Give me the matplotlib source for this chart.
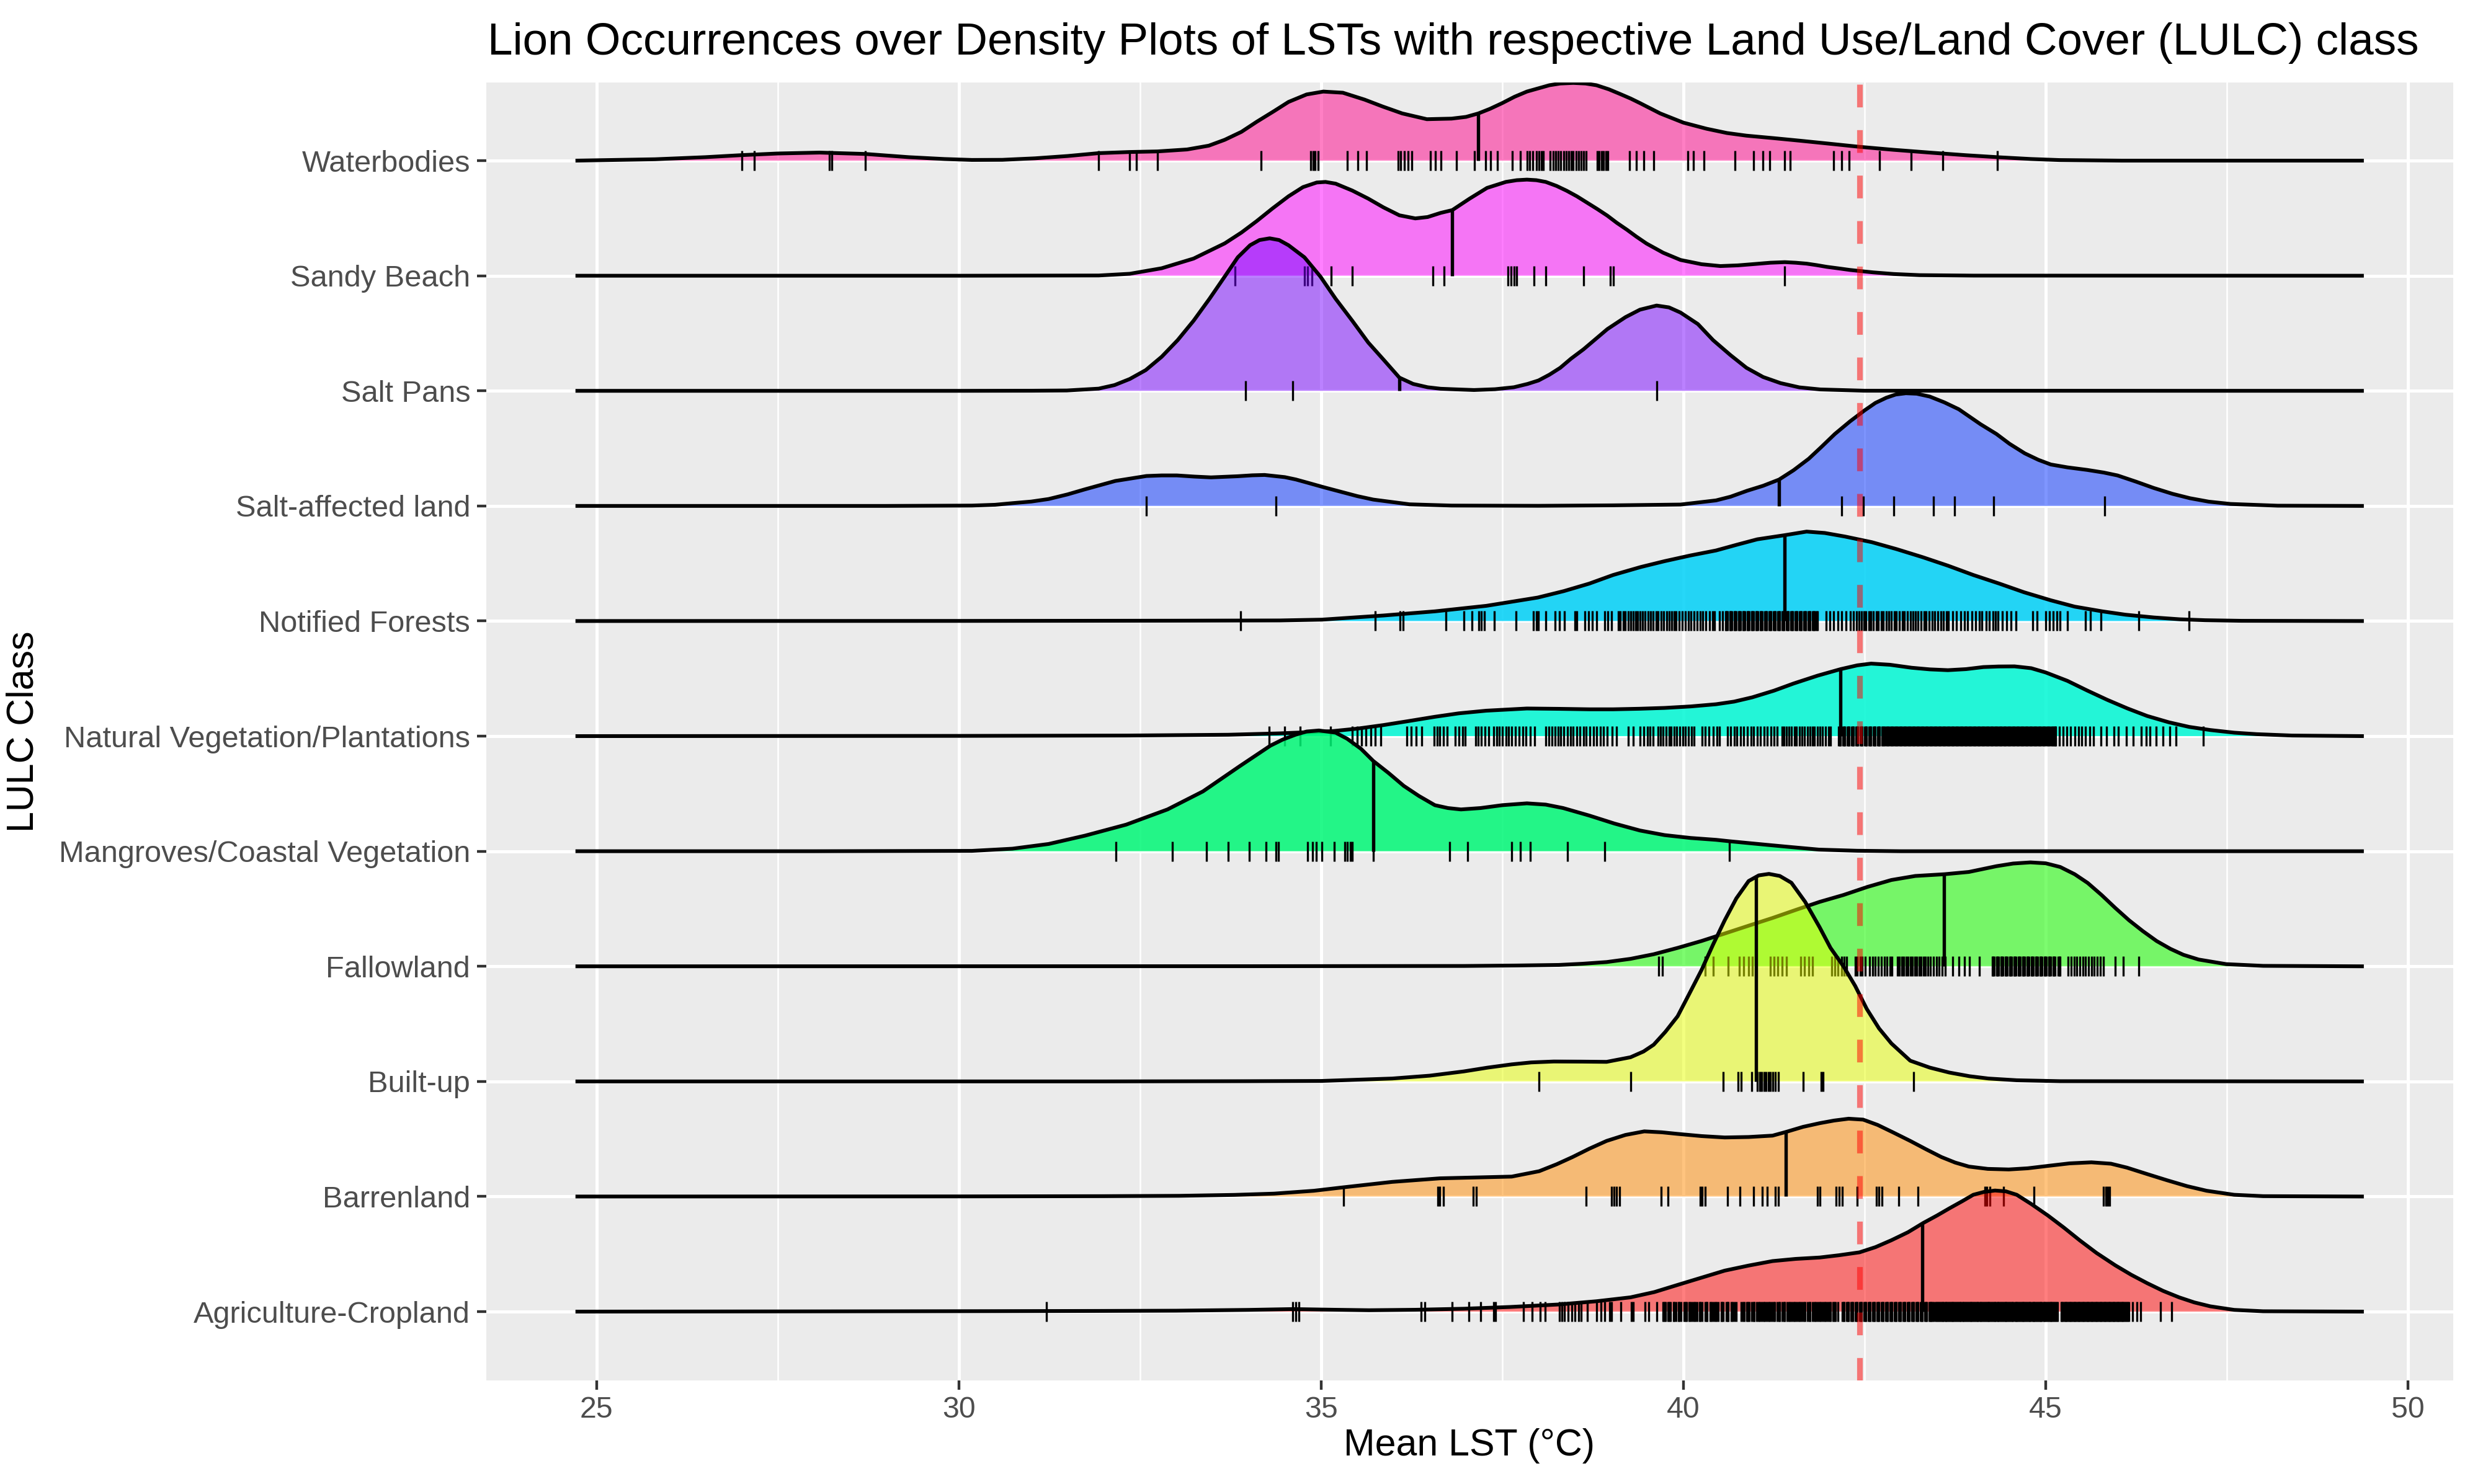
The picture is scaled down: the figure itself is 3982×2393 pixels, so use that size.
"""Ridgeline chart: LST density per LULC class with lion occurrence rugs."""

import matplotlib
matplotlib.use('Agg')
import matplotlib.pyplot as plt
import numpy as np

plt.rcParams.update({
    'font.family': ['Liberation Sans', 'DejaVu Sans'],
    'font.size': 11,
    'xtick.labelsize': 11.6,
    'ytick.labelsize': 11.7,
})

TITLE = 'Lion Occurrences over Density Plots of LSTs with respective Land Use/Land Cover (LULC) class'
X_LABEL = 'Mean LST (°C)'
Y_LABEL = 'LULC Class'
THRESHOLD_LST = 42.43

# bottom -> top, same order as the y axis
LULC_CLASSES = ['Agriculture-Cropland', 'Barrenland', 'Built-up', 'Fallowland',
                'Mangroves/Coastal Vegetation', 'Natural Vegetation/Plantations',
                'Notified Forests', 'Salt-affected land', 'Salt Pans', 'Sandy Beach',
                'Waterbodies']
FILL_COLORS = ['#FF0000', '#FF8B00', '#E8FF00', '#37FB22', '#00F776', '#00F7D4',
               '#00D1F7', '#002EFF', '#7905FF', '#FF00FF', '#FF008B']
FILL_ALPHAS = [0.5, 0.5, 0.5, 0.65, 0.85, 0.85, 0.85, 0.5, 0.5, 0.5, 0.5]

# density curves (x in deg C, height in units of row spacing)
AGRI_X = [24.71, 28.0, 30.5, 32.0, 33.0, 34.0, 34.61, 35.2, 35.66, 36.3, 36.97, 37.6, 38.28,
          38.8, 39.27, 39.6, 39.92, 40.25, 40.57, 40.9, 41.23, 41.55, 41.88, 42.15, 42.43,
          42.65, 42.87, 43.1, 43.31, 43.5, 43.67, 43.85, 44.0, 44.15, 44.3, 44.45, 44.6, 44.8,
          45.03, 45.25, 45.47, 45.7, 45.96, 46.18, 46.4, 46.62, 46.84, 47.05, 47.27, 47.6,
          48.0, 49.39]
AGRI_H = [0.0, 0.002, 0.004, 0.006, 0.008, 0.015, 0.022, 0.016, 0.012, 0.016, 0.025, 0.04,
          0.062, 0.09, 0.124, 0.17, 0.232, 0.295, 0.356, 0.4, 0.439, 0.458, 0.47, 0.49, 0.515,
          0.56, 0.62, 0.69, 0.77, 0.835, 0.897, 0.96, 1.015, 1.04, 1.052, 1.045, 1.015, 0.935,
          0.835, 0.73, 0.619, 0.51, 0.402, 0.32, 0.247, 0.18, 0.124, 0.08, 0.046, 0.015,
          0.003, 0.0]

BARREN_X = [24.71, 30.0, 32.0, 33.04, 33.8, 34.35, 34.9, 35.31, 35.98, 36.64, 37.3, 37.63,
            38.01, 38.25, 38.47, 38.7, 38.94, 39.2, 39.46, 39.7, 39.92, 40.25, 40.57, 40.9,
            41.23, 41.41, 41.65, 41.88, 42.08, 42.28, 42.48, 42.68, 42.9, 43.13, 43.35, 43.56,
            43.75, 43.94, 44.2, 44.49, 44.75, 45.03, 45.33, 45.63, 45.9, 46.12, 46.4, 46.67,
            46.95, 47.22, 47.6, 48.0, 49.39]
BARREN_H = [0.0, 0.001, 0.003, 0.006, 0.014, 0.025, 0.05, 0.08, 0.127, 0.158, 0.168, 0.173,
            0.22, 0.28, 0.343, 0.415, 0.483, 0.535, 0.566, 0.558, 0.544, 0.525, 0.513, 0.517,
            0.529, 0.56, 0.605, 0.637, 0.66, 0.676, 0.668, 0.622, 0.555, 0.483, 0.41, 0.343,
            0.295, 0.26, 0.24, 0.235, 0.245, 0.266, 0.288, 0.297, 0.285, 0.251, 0.195, 0.142,
            0.09, 0.05, 0.015, 0.003, 0.0]

BUILT_X = [24.71, 32.0, 34.0, 35.0, 35.98, 36.5, 36.97, 37.3, 37.63, 37.9, 38.21, 38.6, 38.94,
           39.27, 39.45, 39.59, 39.75, 39.92, 40.08, 40.25, 40.41, 40.57, 40.73, 40.9, 41.04,
           41.18, 41.33, 41.49, 41.68, 41.88, 42.03, 42.21, 42.37, 42.53, 42.7, 42.87, 43.13,
           43.4, 43.67, 43.95, 44.21, 44.6, 45.2, 49.39]
BUILT_H = [0.0, 0.0, 0.002, 0.004, 0.025, 0.05, 0.087, 0.12, 0.148, 0.165, 0.173, 0.172, 0.17,
           0.21, 0.26, 0.319, 0.43, 0.566, 0.76, 0.968, 1.19, 1.4, 1.59, 1.741, 1.79, 1.803,
           1.785, 1.726, 1.56, 1.339, 1.16, 0.999, 0.83, 0.63, 0.46, 0.33, 0.18, 0.12, 0.077,
           0.045, 0.025, 0.01, 0.002, 0.0]

FALLOW_X = [24.71, 34.0, 36.97, 37.7, 38.28, 38.6, 38.94, 39.27, 39.59, 39.92, 40.25, 40.57,
            40.9, 41.23, 41.56, 41.88, 42.21, 42.54, 42.87, 43.2, 43.6, 43.94, 44.32, 44.55,
            44.79, 45.0, 45.2, 45.4, 45.58, 45.77, 45.96, 46.15, 46.34, 46.53, 46.72, 46.9,
            47.11, 47.49, 48.0, 49.39]
FALLOW_H = [0.0, 0.001, 0.003, 0.007, 0.012, 0.022, 0.037, 0.065, 0.105, 0.16, 0.22, 0.285,
            0.353, 0.42, 0.492, 0.56, 0.62, 0.69, 0.75, 0.785, 0.8, 0.82, 0.87, 0.893, 0.903,
            0.895, 0.863, 0.8, 0.724, 0.62, 0.507, 0.4, 0.306, 0.22, 0.152, 0.1, 0.059, 0.019,
            0.004, 0.0]

MANGR_X = [24.71, 28.0, 30.18, 30.74, 31.24, 31.74, 32.31, 32.88, 33.37, 33.87, 34.3, 34.47,
           34.65, 34.8, 34.97, 35.2, 35.36, 35.55, 35.72, 35.93, 36.14, 36.35, 36.57, 36.75,
           36.93, 37.2, 37.5, 37.84, 38.1, 38.34, 38.7, 39.05, 39.4, 39.74, 40.1, 40.45, 40.63,
           41.16, 41.5, 41.87, 42.4, 43.0, 49.39]
MANGR_H = [0.0, 0.0, 0.003, 0.022, 0.063, 0.135, 0.231, 0.363, 0.52, 0.736, 0.917, 0.97,
           1.013, 1.04, 1.049, 1.03, 0.977, 0.89, 0.784, 0.68, 0.568, 0.48, 0.4, 0.375, 0.363,
           0.375, 0.4, 0.416, 0.405, 0.375, 0.31, 0.24, 0.18, 0.14, 0.115, 0.099, 0.087, 0.055,
           0.035, 0.014, 0.004, 0.0, 0.0]

NATVEG_X = [24.71, 30.0, 32.31, 33.72, 34.43, 35.15, 35.5, 35.86, 36.2, 36.57, 36.9, 37.28,
            37.84, 38.3, 38.7, 39.03, 39.4, 39.74, 40.1, 40.45, 40.7, 40.95, 41.25, 41.52,
            41.85, 42.17, 42.4, 42.59, 42.85, 43.15, 43.4, 43.65, 43.9, 44.14, 44.35, 44.57,
            44.8, 45.0, 45.3, 45.57, 45.85, 46.13, 46.4, 46.7, 46.98, 47.27, 47.6, 47.91, 48.4,
            49.39]
NATVEG_H = [0.0, 0.002, 0.005, 0.012, 0.024, 0.043, 0.065, 0.096, 0.13, 0.168, 0.198, 0.221,
            0.24, 0.237, 0.233, 0.233, 0.238, 0.245, 0.258, 0.277, 0.3, 0.337, 0.395, 0.457,
            0.525, 0.582, 0.615, 0.63, 0.62, 0.594, 0.58, 0.573, 0.582, 0.6, 0.605, 0.606, 0.59,
            0.553, 0.48, 0.397, 0.315, 0.24, 0.175, 0.12, 0.08, 0.053, 0.03, 0.017, 0.005, 0.0]

NOTIF_X = [24.71, 30.0, 33.0, 34.43, 35.01, 35.86, 36.57, 37.28, 37.99, 38.35, 38.7, 39.03,
           39.41, 39.74, 40.1, 40.45, 40.75, 41.02, 41.4, 41.7, 41.95, 42.23, 42.6, 42.94, 43.3,
           43.65, 44.0, 44.36, 44.7, 45.07, 45.4, 45.78, 46.1, 46.49, 46.85, 47.2, 47.7, 49.39]
NOTIF_H = [0.0, 0.001, 0.003, 0.005, 0.012, 0.048, 0.084, 0.132, 0.204, 0.26, 0.325, 0.4,
           0.469, 0.52, 0.57, 0.613, 0.665, 0.71, 0.746, 0.777, 0.765, 0.734, 0.685, 0.625,
           0.555, 0.481, 0.4, 0.325, 0.25, 0.18, 0.125, 0.084, 0.055, 0.031, 0.015, 0.007,
           0.002, 0.0]

SALTAFF_X = [24.71, 29.0, 30.18, 30.5, 30.74, 31.0, 31.24, 31.5, 31.74, 32.16, 32.59, 32.8,
             33.01, 33.25, 33.48, 33.85, 34.05, 34.22, 34.5, 34.65, 34.8, 35.05, 35.29, 35.5,
             35.72, 36.22, 36.8, 38.0, 39.03, 39.96, 40.45, 40.65, 40.88, 41.1, 41.32, 41.52,
             41.73, 41.9, 42.09, 42.3, 42.5, 42.65, 42.8, 42.93, 43.07, 43.22, 43.4, 43.6, 43.8,
             43.95, 44.1, 44.32, 44.5, 44.71, 44.9, 45.07, 45.3, 45.57, 45.8, 45.99, 46.25,
             46.49, 46.75, 46.99, 47.25, 47.55, 48.2, 49.39]
SALTAFF_H = [0.0, 0.0, 0.003, 0.01, 0.024, 0.038, 0.06, 0.1, 0.144, 0.217, 0.26, 0.265,
             0.265, 0.255, 0.248, 0.258, 0.266, 0.269, 0.25, 0.23, 0.204, 0.16, 0.12, 0.085,
             0.055, 0.014, 0.003, 0.001, 0.005, 0.012, 0.048, 0.08, 0.132, 0.175, 0.229, 0.31,
             0.41, 0.51, 0.625, 0.735, 0.83, 0.895, 0.94, 0.968, 0.979, 0.975, 0.95, 0.9, 0.84,
             0.775, 0.71, 0.625, 0.54, 0.457, 0.4, 0.36, 0.335, 0.313, 0.29, 0.265, 0.21,
             0.156, 0.105, 0.067, 0.037, 0.017, 0.002, 0.0]

SALTPAN_X = [24.71, 30.0, 31.0, 31.49, 31.93, 32.15, 32.36, 32.58, 32.8, 33.02, 33.24, 33.46,
             33.67, 33.85, 34.02, 34.15, 34.29, 34.42, 34.55, 34.77, 34.99, 35.2, 35.43, 35.65,
             35.86, 36.08, 36.27, 36.47, 36.65, 36.89, 37.11, 37.4, 37.66, 37.85, 38.0, 38.15,
             38.3, 38.45, 38.62, 38.95, 39.2, 39.4, 39.63, 39.8, 39.96, 40.2, 40.41, 40.65,
             40.87, 41.1, 41.34, 41.6, 41.89, 42.5, 49.39]
SALTPAN_H = [0.0, 0.0, 0.001, 0.003, 0.019, 0.05, 0.103, 0.18, 0.296, 0.44, 0.609, 0.8,
             0.993, 1.16, 1.265, 1.31, 1.325, 1.31, 1.265, 1.16, 0.993, 0.8, 0.609, 0.42,
             0.272, 0.115, 0.06, 0.031, 0.018, 0.012, 0.007, 0.014, 0.031, 0.06, 0.09, 0.14,
             0.2, 0.28, 0.36, 0.536, 0.64, 0.705, 0.741, 0.725, 0.68, 0.58, 0.44, 0.31, 0.2,
             0.12, 0.067, 0.03, 0.012, 0.001, 0.0]

SANDY_X = [24.71, 30.0, 31.93, 32.36, 32.8, 33.24, 33.67, 33.9, 34.11, 34.33, 34.55, 34.75,
           34.94, 35.06, 35.2, 35.43, 35.65, 35.86, 36.08, 36.3, 36.47, 36.65, 36.81, 37.05,
           37.29, 37.55, 37.7, 37.84, 37.97, 38.1, 38.25, 38.39, 38.53, 38.67, 38.81, 38.95,
           39.08, 39.22, 39.35, 39.49, 39.72, 39.96, 40.25, 40.51, 40.75, 40.95, 41.2, 41.4,
           41.55, 41.7, 41.84, 41.98, 42.15, 42.3, 42.45, 42.62, 42.9, 43.26, 44.0, 49.39]
SANDY_H = [0.0, 0.0, 0.002, 0.017, 0.065, 0.149, 0.281, 0.375, 0.474, 0.585, 0.69, 0.77, 0.81,
           0.815, 0.8, 0.74, 0.67, 0.594, 0.525, 0.498, 0.51, 0.546, 0.57, 0.67, 0.763, 0.815,
           0.83, 0.835, 0.83, 0.815, 0.78, 0.738, 0.69, 0.635, 0.58, 0.522, 0.46, 0.4, 0.34,
           0.28, 0.2, 0.137, 0.1, 0.084, 0.09, 0.1, 0.113, 0.118, 0.113, 0.105, 0.092, 0.077,
           0.063, 0.05, 0.04, 0.029, 0.015, 0.005, 0.001, 0.0]

WATER_X = [24.71, 25.81, 26.5, 27.01, 27.5, 28.08, 28.71, 29.31, 29.8, 30.18, 30.6, 31.05,
           31.5, 31.93, 32.36, 32.74, 33.15, 33.45, 33.67, 33.9, 34.11, 34.35, 34.55, 34.8,
           35.03, 35.3, 35.6, 35.85, 36.12, 36.46, 36.8, 37.0, 37.17, 37.33, 37.5, 37.67, 37.84,
           38.15, 38.3, 38.48, 38.65, 38.8, 38.97, 39.13, 39.27, 39.4, 39.54, 39.68, 40.0,
           40.32, 40.6, 40.87, 41.25, 41.61, 42.0, 42.43, 42.9, 43.44, 43.9, 44.36, 44.8, 45.19,
           46.05, 49.39]
WATER_H = [0.0, 0.012, 0.03, 0.048, 0.062, 0.07, 0.058, 0.03, 0.014, 0.006, 0.007, 0.02, 0.04,
           0.065, 0.075, 0.08, 0.097, 0.13, 0.181, 0.25, 0.337, 0.43, 0.51, 0.575, 0.6, 0.59,
           0.53, 0.47, 0.41, 0.36, 0.365, 0.38, 0.41, 0.45, 0.5, 0.555, 0.6, 0.655, 0.67, 0.675,
           0.67, 0.655, 0.62, 0.578, 0.54, 0.5, 0.455, 0.41, 0.33, 0.277, 0.24, 0.217, 0.195,
           0.173, 0.148, 0.12, 0.094, 0.068, 0.047, 0.029, 0.014, 0.005, 0.0, 0.0]

# median LST per class (vertical quantile line)
MEDIANS = [43.30, 41.41, 41.00, 43.60, 35.72, 42.17, 41.40, 41.32, 36.08, 36.81, 37.17]

# lion occurrence LSTs (rug ticks)
AGRI_TICKS = [
    31.21, 34.61, 34.65, 34.69, 36.38, 36.43, 36.81, 37.04, 37.20, 37.38, 37.41, 37.79, 37.91,
    38.02, 38.09, 38.29, 38.32, 38.36, 38.41, 38.46, 38.50, 38.55, 38.59, 38.67, 38.80, 38.86,
    38.91, 38.98, 39.01, 39.14, 39.28, 39.31, 39.47, 39.52, 39.63,
    39.72, 39.75, 39.79, 39.82, 39.86, 39.90, 39.93, 39.97, 40.01, 40.04, 40.08, 40.12, 40.15,
    40.19, 40.22, 40.26, 40.30, 40.33, 40.37, 40.41, 40.44, 40.48, 40.52, 40.55, 40.59, 40.62,
    40.66, 40.70, 40.73,
    39.735, 39.805, 39.875, 39.945, 40.025, 40.095, 40.165, 40.235, 40.315, 40.385, 40.455,
    40.535, 40.605, 40.675,
    40.80, 40.84, 40.87, 40.91, 40.94, 40.98, 41.01, 41.05, 41.08, 41.12, 41.15, 41.19, 41.22,
    41.26, 41.29, 41.33, 41.36, 41.40, 41.43, 41.47, 41.50, 41.54, 41.57, 41.61, 41.64, 41.68,
    41.71, 41.75, 41.78, 41.82, 41.85, 41.89, 41.92, 41.96, 41.99, 42.03, 42.06, 42.10, 42.13,
    40.825, 40.895, 40.965, 41.035, 41.105, 41.175, 41.245, 41.315, 41.385, 41.455, 41.525,
    41.595, 41.665, 41.735, 41.805, 41.875, 41.945, 42.015, 42.085,
    42.19, 42.22, 42.25, 42.28, 42.31, 42.34, 42.37, 42.40, 42.43, 42.46, 42.49, 42.52, 42.55,
    42.58, 42.61, 42.64, 42.67, 42.70, 42.73, 42.76, 42.79, 42.82, 42.85, 42.88, 42.91, 42.94,
    42.97, 43.00, 43.03, 43.06, 43.09, 43.12, 43.15, 43.18, 43.21, 43.24, 43.27, 43.30, 43.33,
    43.36, 43.39, 43.42, 43.45,
    42.205, 42.265, 42.325, 42.385, 42.445, 42.505, 42.565, 42.625, 42.685, 42.745, 42.805,
    42.865, 42.925, 42.985, 43.045, 43.105, 43.165, 43.225, 43.285, 43.345, 43.405, 43.435,
    43.48, 43.51, 43.53, 43.56, 43.59, 43.61, 43.64, 43.67, 43.69, 43.72, 43.75, 43.77, 43.80,
    43.83, 43.85, 43.88, 43.91, 43.93, 43.96, 43.99, 44.01, 44.04, 44.07, 44.09, 44.12, 44.15,
    44.17, 44.20, 44.23, 44.25, 44.28, 44.31, 44.33, 44.36, 44.39, 44.41, 44.44, 44.47, 44.49,
    44.52, 44.55, 44.57, 44.60, 44.63, 44.65, 44.68, 44.71, 44.73, 44.76, 44.79, 44.81, 44.84,
    44.87, 44.89, 44.92, 44.95, 44.97, 45.00, 45.03, 45.05, 45.08, 45.11, 45.13, 45.16,
    43.495, 43.545, 43.575, 43.625, 43.655, 43.705, 43.735, 43.785, 43.815, 43.865, 43.895,
    43.945, 43.975, 44.025, 44.055, 44.105, 44.135, 44.185, 44.215, 44.265, 44.295, 44.345,
    44.375, 44.425, 44.455, 44.505, 44.535, 44.585, 44.615, 44.665, 44.695, 44.745, 44.775,
    44.825, 44.855, 44.905, 44.935, 44.985, 45.015, 45.065, 45.095, 45.145,
    45.21, 45.24, 45.27, 45.30, 45.33, 45.36, 45.39, 45.42, 45.45, 45.48, 45.51, 45.54, 45.57,
    45.60, 45.63, 45.66, 45.69, 45.72, 45.75, 45.78, 45.81, 45.84, 45.87, 45.90, 45.93, 45.96,
    45.99, 46.02, 46.05, 46.08, 46.11, 46.15, 46.20, 46.26, 46.31, 46.58, 46.74,
    45.225, 45.255, 45.285, 45.315, 45.345, 45.375, 45.405, 45.435, 45.465, 45.495, 45.525,
    45.555, 45.585, 45.615, 45.645, 45.675, 45.705, 45.735, 45.765, 45.795, 45.825, 45.855,
    45.885, 45.915, 45.945, 45.975, 46.005, 46.035, 46.065, 46.095, 46.13]
BARREN_TICKS = [
    35.31, 36.61, 36.64, 36.69, 37.10, 37.14, 38.66, 39.01, 39.04, 39.08, 39.12, 39.69, 39.79,
    40.23, 40.26, 40.30, 40.61, 40.78, 40.97, 41.09, 41.16, 41.27, 41.31, 41.85, 41.88, 42.11,
    42.15, 42.19, 42.40, 42.66, 42.70, 42.74, 42.97, 43.24, 44.16, 44.19, 44.23, 44.42, 44.84,
    45.80, 45.83, 45.86, 45.88]
BUILT_TICKS = [
    38.01, 39.27, 40.55, 40.75, 40.80, 40.94, 41.02, 41.05, 41.08, 41.11, 41.14, 41.17, 41.20,
    41.23, 41.27, 41.31, 41.65, 41.90, 41.93, 43.18]
FALLOW_TICKS = [
    39.66, 39.71, 40.30, 40.41, 40.62, 40.77, 40.83, 40.90, 40.95, 41.00, 41.20, 41.25, 41.30,
    41.36, 41.42, 41.62, 41.67, 41.73, 41.78, 42.05, 42.09, 42.13, 42.18, 42.22, 42.25, 42.37,
    42.40, 42.44, 42.47, 42.51, 42.57, 42.61, 42.65, 42.69, 42.73, 42.77, 42.81, 42.85, 42.88,
    42.95, 42.98, 43.01, 43.04, 43.07, 43.10, 43.13, 43.16, 43.19, 43.22, 43.25, 43.28, 43.31,
    43.34, 43.37, 43.41, 43.45, 43.49, 43.53, 43.57, 43.61, 43.72, 43.80, 43.88, 43.95, 44.08,
    44.26, 44.29, 44.32, 44.35, 44.38, 44.41, 44.44, 44.47, 44.50, 44.53, 44.56, 44.59, 44.62,
    44.65, 44.68, 44.71, 44.74, 44.77, 44.80, 44.83, 44.86, 44.89, 44.92, 44.95, 44.98, 45.01,
    45.04, 45.07, 45.10, 45.13, 45.17, 45.20, 45.31, 45.35, 45.39, 45.43, 45.47, 45.51, 45.55,
    45.59, 45.63, 45.67, 45.71, 45.75, 45.80, 45.96, 46.07, 46.28,
    44.275, 44.335, 44.395, 44.455, 44.515, 44.575, 44.635, 44.695, 44.755, 44.815, 44.875,
    44.935, 44.995, 45.055, 45.115, 45.185]
MANGR_TICKS = [
    32.17, 32.95, 33.42, 33.72, 34.01, 34.24, 34.38, 34.41, 34.81, 34.88, 34.93, 35.01, 35.18,
    35.33, 35.36, 35.40, 35.43, 35.72, 36.77, 37.02, 37.63, 37.75, 37.89, 38.40, 38.91, 40.63]
NATVEG_TICKS = [
    34.28, 34.50, 34.71, 35.13, 35.43, 35.50, 35.56, 35.62, 35.69, 35.75, 35.82, 36.18, 36.24,
    36.31, 36.39, 36.56, 36.60, 36.64, 36.69, 36.74, 36.85, 36.90, 36.95, 36.99, 37.13, 37.17,
    37.21, 37.26, 37.31, 37.38, 37.42, 37.46, 37.50, 37.55, 37.59, 37.63, 37.68, 37.73, 37.78,
    37.83, 37.89, 37.95, 38.10, 38.14, 38.19, 38.23, 38.27, 38.31, 38.35, 38.40, 38.44, 38.48,
    38.53, 38.57, 38.62, 38.66, 38.71, 38.76, 38.80, 38.85, 38.90, 38.95, 39.02, 39.08, 39.24,
    39.31, 39.40, 39.45, 39.50, 39.54, 39.58, 39.65, 39.68, 39.72, 39.76, 39.80, 39.83, 39.87,
    39.91, 39.95, 39.99, 40.03, 40.07, 40.11, 40.15, 40.26, 40.30, 40.35, 40.41, 40.46, 40.50,
    40.61, 40.65, 40.70, 40.74, 40.79, 40.83, 40.88, 40.93, 40.97, 41.02, 41.06, 41.11, 41.16,
    41.21, 41.25, 41.29, 41.36, 41.39, 41.42, 41.46, 41.49, 41.53, 41.56, 41.60, 41.64, 41.67,
    41.71, 41.75, 41.78, 41.81, 41.85, 41.88, 41.92, 41.96, 42.00, 42.03,
    42.14, 42.17, 42.20, 42.23, 42.26, 42.29, 42.32, 42.35, 42.38, 42.41, 42.44, 42.47, 42.50,
    42.53, 42.56, 42.59, 42.62, 42.65, 42.68, 42.71, 42.74, 42.77, 42.80, 42.83, 42.86, 42.89,
    42.92, 42.95, 42.98, 43.01, 43.04, 43.07, 43.10, 43.13, 43.16, 43.19, 43.22, 43.25, 43.28,
    43.31, 43.34, 43.37, 43.40, 43.43, 43.46, 43.49, 43.52, 43.55, 43.58, 43.61, 43.64, 43.67,
    43.70, 43.73, 43.76, 43.79, 43.82, 43.85, 43.88, 43.91, 43.94, 43.97, 44.00, 44.03, 44.06,
    44.09, 44.12, 44.15, 44.18, 44.21, 44.24, 44.27, 44.30, 44.33, 44.36, 44.39, 44.42, 44.45,
    44.48, 44.51, 44.54, 44.57, 44.60, 44.63, 44.66, 44.69, 44.72, 44.75, 44.78, 44.81, 44.84,
    44.87, 44.90, 44.93, 44.96, 44.99, 45.02, 45.05, 45.08, 45.11, 45.14,
    42.155, 42.215, 42.275, 42.335, 42.395, 42.455, 42.515, 42.575, 42.635, 42.695, 42.755,
    42.815, 42.875, 42.935, 42.995, 43.055, 43.115, 43.175, 43.235, 43.295, 43.355, 43.415,
    43.475, 43.535, 43.595, 43.655, 43.715, 43.775, 43.835, 43.895, 43.955, 44.015, 44.075,
    44.135, 44.195, 44.255, 44.315, 44.375, 44.435, 44.495, 44.555, 44.615, 44.675, 44.735,
    44.795, 44.855, 44.915, 44.975, 45.035, 45.095, 45.125,
    45.19, 45.24, 45.29, 45.34, 45.40, 45.45, 45.50, 45.55, 45.61, 45.66, 45.76, 45.84, 45.94,
    46.00, 46.11, 46.21, 46.32, 46.39, 46.44, 46.52, 46.62, 46.71, 46.80, 47.17]
NOTIF_TICKS = [
    33.89, 35.75, 36.09, 36.13, 36.72, 36.97, 37.08, 37.18, 37.21, 37.25, 37.39, 37.69, 37.93,
    37.97, 38.00, 38.10, 38.23, 38.29, 38.36, 38.50, 38.53, 38.64, 38.69, 38.74, 38.80, 38.91,
    38.96, 39.01, 39.10, 39.13, 39.17, 39.20, 39.24, 39.27, 39.31, 39.34, 39.37, 39.40, 39.44,
    39.47, 39.51, 39.55, 39.58, 39.62, 39.65, 39.69, 39.73, 39.77, 39.80, 39.84, 39.87, 39.90,
    39.94, 39.98, 40.03, 40.07, 40.10, 40.15, 40.19, 40.23, 40.27, 40.31, 40.36, 40.40, 40.43,
    40.50, 40.54, 40.58, 40.61, 40.64, 40.67, 40.70, 40.73, 40.76, 40.79, 40.82, 40.85, 40.88,
    40.91, 40.94, 40.97, 41.00, 41.03, 41.06, 41.09, 41.12, 41.15, 41.18, 41.21, 41.24, 41.27,
    41.30, 41.33, 41.36, 41.39, 41.42, 41.45, 41.48, 41.51, 41.54, 41.57, 41.60, 41.63, 41.66,
    41.69, 41.72, 41.75, 41.78, 41.81, 41.85,
    40.595, 40.655, 40.715, 40.775, 40.835, 40.895, 40.955, 41.015, 41.075, 41.135, 41.195,
    41.255, 41.315, 41.375, 41.435, 41.495, 41.555, 41.615, 41.675, 41.735, 41.795, 41.83,
    41.97, 42.02, 42.07, 42.13, 42.18, 42.24, 42.30,
    42.35, 42.39, 42.42, 42.46, 42.49, 42.52, 42.56, 42.59, 42.62, 42.66, 42.69, 42.73, 42.76,
    42.80, 42.83, 42.87, 42.91, 42.94, 42.98, 43.02, 43.05, 43.09, 43.13, 43.17, 43.20, 43.24,
    43.28, 43.32, 43.35, 43.39, 43.43, 43.47, 43.51, 43.55, 43.59, 43.63, 43.66, 43.72, 43.77,
    43.83, 43.88, 43.92, 43.98, 44.03, 44.08, 44.12, 44.18, 44.22, 44.27, 44.31, 44.34, 44.40,
    44.46, 44.52, 44.59, 44.82, 44.88, 45.00, 45.05, 45.10, 45.15, 45.20, 45.30, 45.55, 45.62,
    45.76, 46.28, 46.98]
SALTAFF_TICKS = [32.59, 34.38, 42.18, 42.48, 42.90, 43.45, 43.74, 44.28, 45.81]
SALTPAN_TICKS = [33.96, 34.61, 39.63]
SANDY_TICKS = [33.81, 34.77, 34.81, 34.87, 35.14, 35.43, 36.54, 36.70, 37.58, 37.62, 37.66,
               37.70, 37.94, 38.10, 38.62, 38.99, 39.03, 41.40]
WATER_TICKS = [
    27.01, 27.18, 28.21, 28.25, 28.71, 31.93, 32.36, 32.45, 32.74, 34.17, 34.86, 34.89, 34.92,
    34.96, 35.36, 35.51, 35.63, 36.06, 36.10, 36.15, 36.20, 36.25, 36.51, 36.58, 36.65, 36.87,
    37.12, 37.27, 37.34, 37.43, 37.64, 37.75, 37.84, 37.88, 37.92, 37.97, 38.01, 38.04, 38.07,
    38.16, 38.20, 38.24, 38.27, 38.31, 38.35, 38.38, 38.42, 38.45, 38.48, 38.52, 38.55, 38.59,
    38.62, 38.66, 38.81, 38.84, 38.87, 38.90, 38.93, 38.96, 39.26, 39.35, 39.45, 39.59, 40.06,
    40.14, 40.28, 40.71, 40.97, 41.10, 41.19, 41.40, 41.47, 42.07, 42.18, 42.29, 42.71, 43.14,
    43.58, 44.33]

CURVES_X = [AGRI_X, BARREN_X, BUILT_X, FALLOW_X, MANGR_X, NATVEG_X, NOTIF_X, SALTAFF_X,
            SALTPAN_X, SANDY_X, WATER_X]
CURVES_H = [AGRI_H, BARREN_H, BUILT_H, FALLOW_H, MANGR_H, NATVEG_H, NOTIF_H, SALTAFF_H,
            SALTPAN_H, SANDY_H, WATER_H]
TICKS = [AGRI_TICKS, BARREN_TICKS, BUILT_TICKS, FALLOW_TICKS, MANGR_TICKS, NATVEG_TICKS,
         NOTIF_TICKS, SALTAFF_TICKS, SALTPAN_TICKS, SANDY_TICKS, WATER_TICKS]

PANEL_BG = '#EBEBEB'
TICK_HALF = 0.086   # rug half-length in row units


def draw_ridge(ax, base, xs, hs, ticks, median, color, alpha, z):
    xs = np.asarray(xs, dtype=float)
    hs = np.asarray(hs, dtype=float)
    assert len(xs) == len(hs)
    ax.fill_between(xs, base, base + hs, facecolor=color, alpha=alpha, linewidth=0, zorder=z)
    ax.vlines(ticks, base - TICK_HALF, base + TICK_HALF, colors='black',
              linewidth=0.8, zorder=z + 0.1)
    ax.plot(xs, base + hs, color='black', linewidth=1.45, solid_capstyle='butt',
            solid_joinstyle='round', zorder=z + 0.2)
    top = base + np.interp(median, xs, hs)
    ax.plot([median, median], [base, top], color='black', linewidth=1.3,
            solid_capstyle='butt', zorder=z + 0.3)


def main():
    W, H, DPI = 3982, 2393, 300
    fig = plt.figure(figsize=(W / DPI, H / DPI), dpi=DPI, facecolor='white')
    ax = fig.add_axes([783.6 / W, 1 - 2226 / H, (3955 - 783.6) / W, (2226 - 133) / H])
    ax.set_facecolor(PANEL_BG)

    # ggplot-style 5% expansion of the density range
    xmin = min(min(x) for x in CURVES_X)
    xmax = max(max(x) for x in CURVES_X)
    pad = 0.05 * (xmax - xmin)
    ax.set_xlim(xmin - pad, xmax + pad)
    ax.set_ylim(0.402, 11.679)

    ax.set_xticks([25, 30, 35, 40, 45, 50])
    ax.set_xticks([27.5, 32.5, 37.5, 42.5, 47.5], minor=True)
    ax.set_yticks(range(1, len(LULC_CLASSES) + 1))
    ax.set_yticklabels(LULC_CLASSES)
    ax.grid(which='major', color='white', linewidth=1.2)
    ax.grid(which='minor', axis='x', color='white', linewidth=0.6)
    ax.set_axisbelow(True)
    for s in ax.spines.values():
        s.set_visible(False)
    ax.tick_params(which='major', length=3.6, width=1.05, color='#333333',
                   labelcolor='#4D4D4D')
    ax.tick_params(axis='x', pad=2.5)
    ax.tick_params(axis='y', pad=2.5)
    ax.tick_params(which='minor', length=0)

    # top rows first so lower ridges overlap the ones above
    n = len(LULC_CLASSES)
    for i in range(n - 1, -1, -1):
        draw_ridge(ax, i + 1, CURVES_X[i], CURVES_H[i], TICKS[i], MEDIANS[i],
                   FILL_COLORS[i], FILL_ALPHAS[i], z=10 + (n - i))

    ax.axvline(THRESHOLD_LST, color='red', alpha=0.5, linewidth=2.2,
               linestyle=(0, (4, 4)), zorder=100)

    fig.text(786 / W, 1 - 88 / H, TITLE, fontsize=17.5, ha='left', va='baseline')
    fig.text(2369 / W, 1 - 2331 / H, X_LABEL, fontsize=14.6, ha='center', va='center')
    fig.text(38 / W, 1 - 1180 / H, Y_LABEL, fontsize=14.6, ha='center', va='center',
             rotation=90)

    fig.savefig('out.png', dpi=DPI, facecolor='white')
    plt.close(fig)


if __name__ == '__main__':
    main()
